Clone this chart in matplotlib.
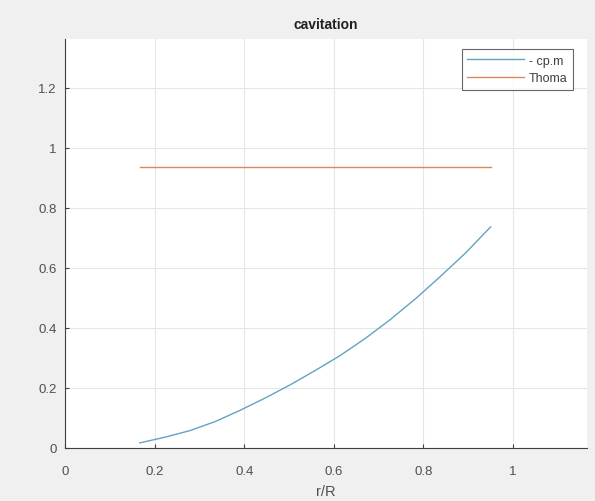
import matplotlib
matplotlib.use("Agg")
import matplotlib.pyplot as plt

plt.rcParams['font.family'] = ['Liberation Sans', 'DejaVu Sans']

r_R = [0.167, 0.223, 0.279, 0.335, 0.390, 0.446, 0.502, 0.558, 0.614,
       0.670, 0.726, 0.782, 0.838, 0.894, 0.950]
cp_m = [0.017, 0.036, 0.058, 0.088, 0.125, 0.166, 0.210, 0.258, 0.308,
        0.365, 0.428, 0.497, 0.572, 0.650, 0.737]
thoma_x = [0.167, 0.950]
thoma_y = [0.935, 0.935]

xticks = [0, 0.2, 0.4, 0.6, 0.8, 1]
xticklabels = ['0', '0.2', '0.4', '0.6', '0.8', '1']
yticks = [0, 0.2, 0.4, 0.6, 0.8, 1, 1.2]
yticklabels = ['0', '0.2', '0.4', '0.6', '0.8', '1', '1.2']

fig = plt.figure(figsize=(5.95, 5.02), dpi=100, facecolor='#f0f0f0')
ax = fig.add_axes([65/595, 53/502, (587-65)/595, (449-40)/502])
ax.set_facecolor('white')

ax.plot(r_R, cp_m, color='#62a3c2', lw=1.0, label='- cp.m')
ax.plot(thoma_x, thoma_y, color='#d98a5a', lw=1.0, label='Thoma')

ax.set_xlim(0, 1.165)
ax.set_ylim(0, 1.363)
ax.set_xticks(xticks)
ax.set_xticklabels(xticklabels)
ax.set_yticks(yticks)
ax.set_yticklabels(yticklabels)

ax.grid(True, color='#e6e6e6', lw=0.8)
ax.set_axisbelow(True)
for s in ['top', 'right']:
    ax.spines[s].set_visible(False)
for s in ['left', 'bottom']:
    ax.spines[s].set_color('#404040')
    ax.spines[s].set_linewidth(0.8)
ax.tick_params(direction='in', length=3, width=0.8, colors='#404040',
               labelcolor='#505050', labelsize=9.5)
ax.tick_params(axis='y', pad=6)
ax.tick_params(axis='x', pad=12)

ax.set_title('cavitation', fontsize=10, fontweight='bold', color='#202020', pad=8)
ax.set_xlabel('r/R', fontsize=10.5, color='#505050', labelpad=5)

leg = ax.legend(loc='upper right', bbox_to_anchor=(573/595, (502-50)/502),
                bbox_transform=fig.transFigure, borderaxespad=0,
                fontsize=9, frameon=True, fancybox=False,
                edgecolor='#404040', handlelength=4.5,
                labelspacing=0.45, borderpad=0.45, handletextpad=0.4)
leg.get_frame().set_linewidth(0.8)
for t in leg.get_texts():
    t.set_color('#404040')

fig.savefig('out.png', dpi=100, facecolor=fig.get_facecolor())
